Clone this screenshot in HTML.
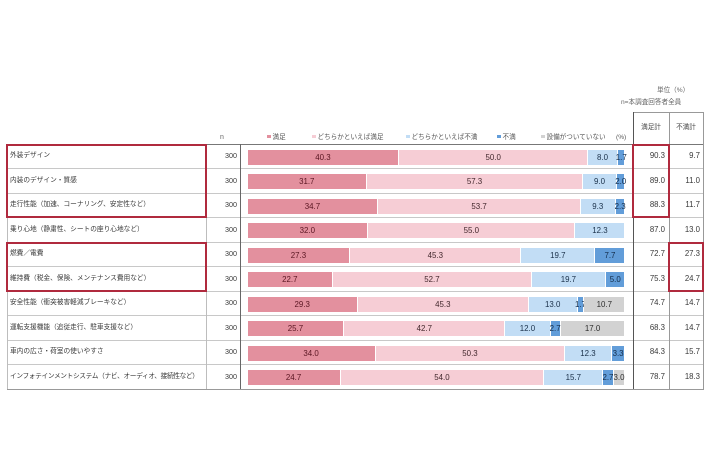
<!DOCTYPE html>
<html><head><meta charset="utf-8">
<style>
*{margin:0;padding:0;box-sizing:border-box}
body{width:710px;height:474px;background:#fff;position:relative;overflow:hidden;font-family:"Liberation Sans","Noto Sans CJK JP",sans-serif;color:#444}
.a{position:absolute}
.hl{position:absolute;height:1px;background:#c8c8c8}
.vl{position:absolute;width:1px;background:#bdbdbd}
.lab{position:absolute;left:10px;height:24.5px;line-height:24.5px;font-size:6.7px;white-space:nowrap;color:#3a3a3a}
.n{position:absolute;left:206px;width:31px;height:24.5px;line-height:24.5px;font-size:7.2px;text-align:right;color:#3a3a3a}
.t1{position:absolute;left:633px;width:32px;height:24.5px;line-height:24.5px;font-size:7.8px;text-align:right;color:#3a3a3a}
.t2{position:absolute;left:669px;width:31px;height:24.5px;line-height:24.5px;font-size:7.8px;text-align:right;color:#3a3a3a}
.bar{position:absolute;left:247.5px;width:377px;height:15px;display:flex}
.bar div{height:15px;display:flex;justify-content:center;align-items:center;font-size:7.9px;white-space:nowrap;border-right:1.5px solid #fff;flex-shrink:1}
.bar div:last-child{border-right:none}
.c1{background:#e3909e;color:#5a1622}
.c2{background:#f6cdd5;color:#43282d}
.c3{background:#c2ddf5;color:#1a3049}
.c4{background:#629dd9;color:#122b48}
.c5{background:#d2d2d2;color:#2e2e2e}
.red{position:absolute;border:2px solid #b02a3e}
.lg{position:absolute;top:133px;font-size:6.6px;white-space:nowrap;color:#555;line-height:10px}
.sq{display:inline-block;width:3.5px;height:3.5px;margin-right:2px;vertical-align:1px}
</style></head><body>

<!-- unit text -->
<div class="a" style="left:657px;top:84px;font-size:6.6px;color:#666;white-space:nowrap">単位（%）</div>
<div class="a" style="left:621px;top:96px;font-size:6.6px;color:#666;white-space:nowrap">n=本調査回答者全員</div>

<!-- header -->
<div class="a" style="left:220px;top:133px;font-size:7px;color:#666;line-height:10px">n</div>
<div class="lg" style="left:267px"><span class="sq" style="background:#e3909e"></span>満足</div>
<div class="lg" style="left:312px"><span class="sq" style="background:#f6cdd5"></span>どちらかといえば満足</div>
<div class="lg" style="left:406px"><span class="sq" style="background:#c2ddf5"></span>どちらかといえば不満</div>
<div class="lg" style="left:497px"><span class="sq" style="background:#629dd9"></span>不満</div>
<div class="lg" style="left:541px"><span class="sq" style="background:#d2d2d2"></span>設備がついていない</div>
<div class="lg" style="left:616px">(%)</div>
<div class="a" style="left:633px;top:112px;width:36px;height:32px;line-height:32px;text-align:center;font-size:6.6px;color:#444">満足計</div>
<div class="a" style="left:669px;top:112px;width:34px;height:32px;line-height:32px;text-align:center;font-size:6.6px;color:#444">不満計</div>

<!-- lines -->
<div class="hl" style="left:633px;top:112px;width:71px;background:#999"></div>
<div class="hl" style="left:7px;top:144px;width:697px;background:#777"></div>
<div class="hl" style="left:7px;top:168px;width:697px"></div>
<div class="hl" style="left:7px;top:193px;width:697px"></div>
<div class="hl" style="left:7px;top:217px;width:697px"></div>
<div class="hl" style="left:7px;top:242px;width:697px"></div>
<div class="hl" style="left:7px;top:266px;width:697px"></div>
<div class="hl" style="left:7px;top:291px;width:697px"></div>
<div class="hl" style="left:7px;top:315px;width:697px"></div>
<div class="hl" style="left:7px;top:340px;width:697px"></div>
<div class="hl" style="left:7px;top:364px;width:697px"></div>
<div class="hl" style="left:7px;top:389px;width:697px;background:#999"></div>
<div class="vl" style="left:7px;top:144px;height:245px"></div>
<div class="vl" style="left:206px;top:144px;height:245px"></div>
<div class="vl" style="left:240px;top:144px;height:245px;background:#666"></div>
<div class="vl" style="left:633px;top:112px;height:277px;background:#555"></div>
<div class="vl" style="left:669px;top:112px;height:277px;background:#999"></div>
<div class="vl" style="left:703px;top:112px;height:277px;background:#999"></div>

<!-- rows -->
<div class="lab" style="top:144px">外装デザイン</div>
<div class="n" style="top:144px">300</div>
<div class="bar" style="top:149.5px"><div class="c1" style="width:40.3%">40.3</div><div class="c2" style="width:50%">50.0</div><div class="c3" style="width:8%">8.0</div><div class="c4" style="width:1.7%">1.7</div></div>
<div class="t1" style="top:144px">90.3</div><div class="t2" style="top:144px">9.7</div>

<div class="lab" style="top:168.5px">内装のデザイン・質感</div>
<div class="n" style="top:168.5px">300</div>
<div class="bar" style="top:174px"><div class="c1" style="width:31.7%">31.7</div><div class="c2" style="width:57.3%">57.3</div><div class="c3" style="width:9%">9.0</div><div class="c4" style="width:2%">2.0</div></div>
<div class="t1" style="top:168.5px">89.0</div><div class="t2" style="top:168.5px">11.0</div>

<div class="lab" style="top:193px">走行性能（加速、コーナリング、安定性など）</div>
<div class="n" style="top:193px">300</div>
<div class="bar" style="top:198.5px"><div class="c1" style="width:34.7%">34.7</div><div class="c2" style="width:53.7%">53.7</div><div class="c3" style="width:9.3%">9.3</div><div class="c4" style="width:2.3%">2.3</div></div>
<div class="t1" style="top:193px">88.3</div><div class="t2" style="top:193px">11.7</div>

<div class="lab" style="top:217.5px">乗り心地（静粛性、シートの座り心地など）</div>
<div class="n" style="top:217.5px">300</div>
<div class="bar" style="top:223px"><div class="c1" style="width:32%">32.0</div><div class="c2" style="width:55%">55.0</div><div class="c3" style="width:13%">12.3</div></div>
<div class="t1" style="top:217.5px">87.0</div><div class="t2" style="top:217.5px">13.0</div>

<div class="lab" style="top:242px">燃費／電費</div>
<div class="n" style="top:242px">300</div>
<div class="bar" style="top:247.5px"><div class="c1" style="width:27.3%">27.3</div><div class="c2" style="width:45.3%">45.3</div><div class="c3" style="width:19.7%">19.7</div><div class="c4" style="width:7.7%">7.7</div></div>
<div class="t1" style="top:242px">72.7</div><div class="t2" style="top:242px">27.3</div>

<div class="lab" style="top:266.5px">維持費（税金、保険、メンテナンス費用など）</div>
<div class="n" style="top:266.5px">300</div>
<div class="bar" style="top:272px"><div class="c1" style="width:22.7%">22.7</div><div class="c2" style="width:52.7%">52.7</div><div class="c3" style="width:19.7%">19.7</div><div class="c4" style="width:4.9%">5.0</div></div>
<div class="t1" style="top:266.5px">75.3</div><div class="t2" style="top:266.5px">24.7</div>

<div class="lab" style="top:291px">安全性能（衝突被害軽減ブレーキなど）</div>
<div class="n" style="top:291px">300</div>
<div class="bar" style="top:296.5px"><div class="c1" style="width:29.3%">29.3</div><div class="c2" style="width:45.3%">45.3</div><div class="c3" style="width:13%">13.0</div><div class="c4" style="width:1.7%">1.7</div><div class="c5" style="width:10.7%">10.7</div></div>
<div class="t1" style="top:291px">74.7</div><div class="t2" style="top:291px">14.7</div>

<div class="lab" style="top:315.5px">運転支援機能（追従走行、駐車支援など）</div>
<div class="n" style="top:315.5px">300</div>
<div class="bar" style="top:321px"><div class="c1" style="width:25.7%">25.7</div><div class="c2" style="width:42.7%">42.7</div><div class="c3" style="width:12%">12.0</div><div class="c4" style="width:2.7%">2.7</div><div class="c5" style="width:16.9%">17.0</div></div>
<div class="t1" style="top:315.5px">68.3</div><div class="t2" style="top:315.5px">14.7</div>

<div class="lab" style="top:340px">車内の広さ・荷室の使いやすさ</div>
<div class="n" style="top:340px">300</div>
<div class="bar" style="top:345.5px"><div class="c1" style="width:34%">34.0</div><div class="c2" style="width:50.3%">50.3</div><div class="c3" style="width:12.3%">12.3</div><div class="c4" style="width:3.4%">3.3</div></div>
<div class="t1" style="top:340px">84.3</div><div class="t2" style="top:340px">15.7</div>

<div class="lab" style="top:364.5px;letter-spacing:-0.35px">インフォテインメントシステム（ナビ、オーディオ、接続性など）</div>
<div class="n" style="top:364.5px">300</div>
<div class="bar" style="top:370px"><div class="c1" style="width:24.7%">24.7</div><div class="c2" style="width:54%">54.0</div><div class="c3" style="width:15.7%">15.7</div><div class="c4" style="width:2.7%">2.7</div><div class="c5" style="width:2.9%">3.0</div></div>
<div class="t1" style="top:364.5px">78.7</div><div class="t2" style="top:364.5px">18.3</div>

<!-- red highlight boxes -->
<div class="red" style="left:6px;top:144px;width:201px;height:74px"></div>
<div class="red" style="left:6px;top:242px;width:201px;height:50px"></div>
<div class="red" style="left:632px;top:144px;width:38px;height:74px"></div>
<div class="red" style="left:668px;top:242px;width:36px;height:50px"></div>

</body></html>
